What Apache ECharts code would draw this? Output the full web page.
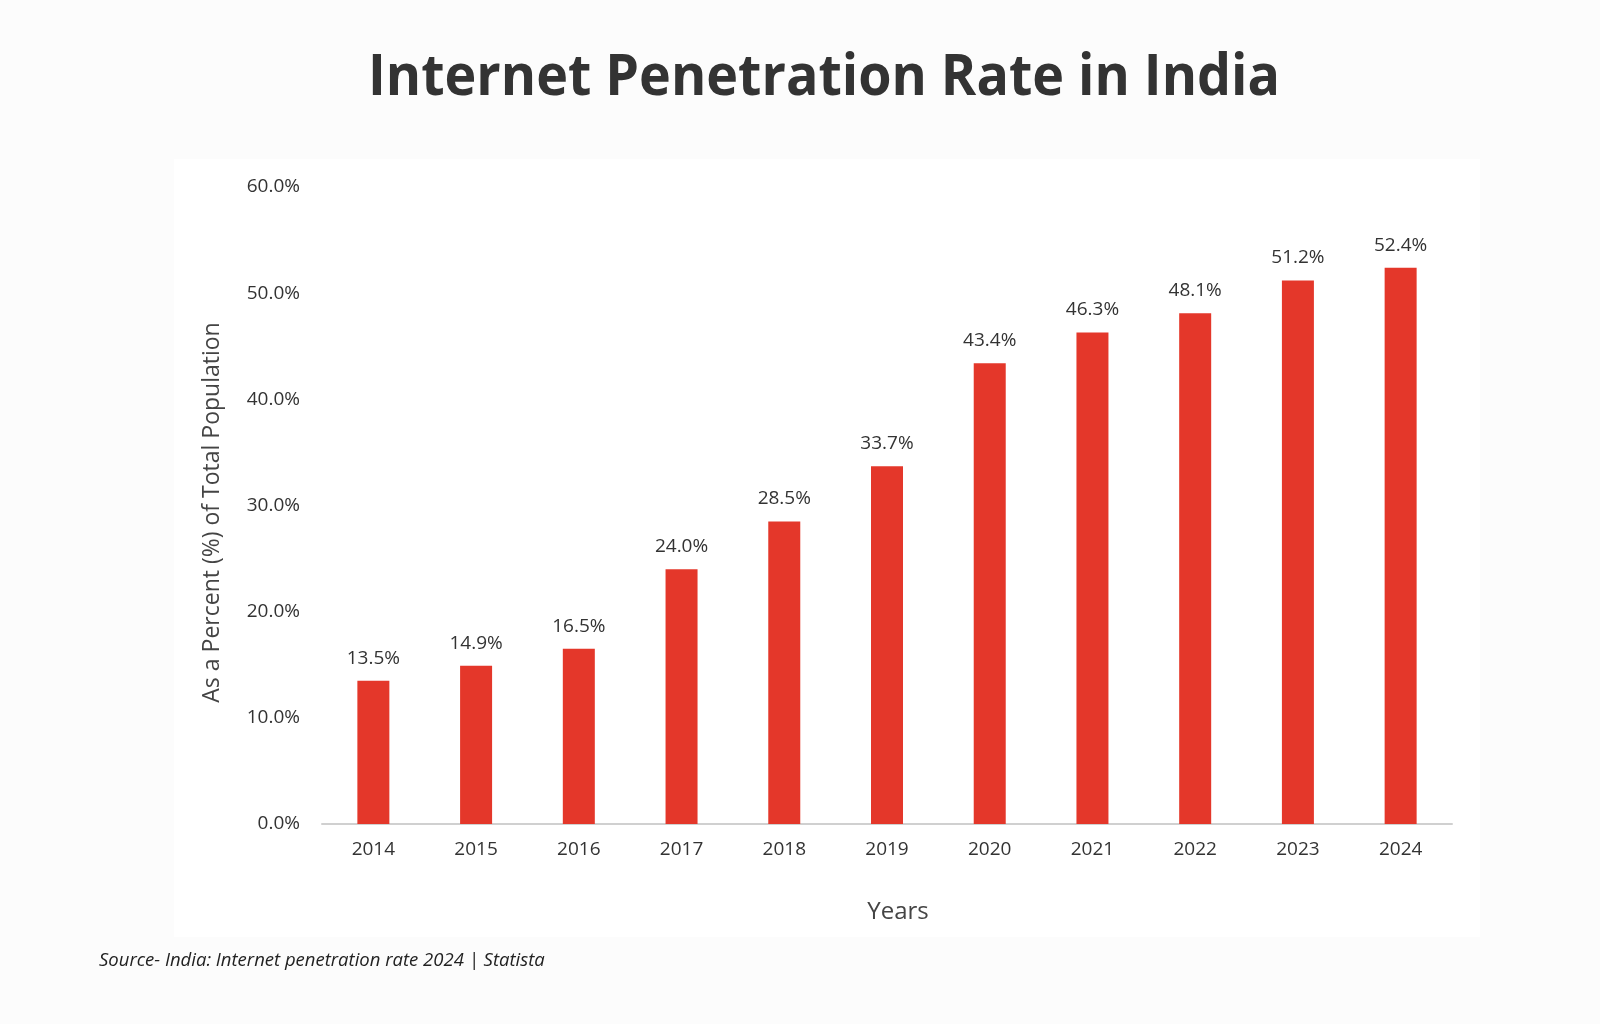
<!DOCTYPE html>
<html>
<head>
<meta charset="utf-8">
<script src="https://cdn.jsdelivr.net/npm/echarts@6/dist/echarts.min.js"></script>
<style>
  html, body { margin: 0; padding: 0; background: #fcfcfc; }
  #chart { width: 1600px; height: 1024px; }
</style>
</head>
<body>
<div id="chart"></div>
<script>
const years = ['2014','2015','2016','2017','2018','2019','2020','2021','2022','2023','2024'];
const penetration = [13.5, 14.9, 16.5, 24.0, 28.5, 33.7, 43.4, 46.3, 48.1, 51.2, 52.4];
const titleText = 'Internet Penetration Rate in India';
const yAxisTitle = 'As a Percent (%) of Total Population';
const xAxisTitle = 'Years';
const sourceText = 'Source- India: Internet penetration rate 2024 | Statista';

const chart = echarts.init(document.getElementById('chart'), null, { renderer: 'canvas' });
chart.setOption({
  backgroundColor: '#fcfcfc',
  animation: false,
  graphic: [
    {
      type: 'rect',
      z: -10,
      shape: { x: 174, y: 159, width: 1306, height: 778 },
      style: { fill: '#ffffff' }
    },
    {
      type: 'text',
      x: 824,
      y: 78.5,
      scaleX: 0.928,
      originX: 0,
      originY: 0,
      style: {
        text: titleText,
        align: 'center',
        verticalAlign: 'middle',
        fontFamily: '"Open Sans", sans-serif',
        fontWeight: 'bold',
        fontSize: 58,
        fill: '#333333'
      }
    },
    {
      type: 'text',
      left: 99,
      top: 951,
      style: {
        text: sourceText,
        fontFamily: '"Open Sans", sans-serif',
        fontStyle: 'italic',
        fontSize: 18.5,
        fill: '#222222'
      }
    }
  ],
  grid: {
    left: 322,
    right: 148,
    top: 187,
    bottom: 200,
    containLabel: false
  },
  xAxis: {
    type: 'category',
    data: years,
    name: xAxisTitle,
    nameLocation: 'middle',
    nameGap: 76,
    nameTextStyle: { fontFamily: '"Open Sans", sans-serif', fontSize: 24, color: '#444444', padding: [0, 0, 0, 22] },
    axisLine: { lineStyle: { color: '#d0d0d0', width: 2 } },
    axisTick: { show: false },
    axisLabel: { margin: 16, fontFamily: '"Open Sans", sans-serif', fontSize: 19, fontWeight: 500, color: '#333333' }
  },
  yAxis: {
    type: 'value',
    min: 0,
    max: 60,
    interval: 10,
    name: yAxisTitle,
    nameLocation: 'middle',
    nameGap: 98,
    nameTextStyle: { fontFamily: '"Open Sans", sans-serif', fontSize: 23, color: '#444444', padding: [0, 14, 0, 0] },
    axisLine: { show: false },
    axisTick: { show: false },
    splitLine: { show: false },
    axisLabel: {
      margin: 22,
      fontFamily: '"Open Sans", sans-serif',
      fontSize: 19,
      fontWeight: 500,
      color: '#333333',
      formatter: v => v.toFixed(1) + '%'
    }
  },
  series: [{
    type: 'bar',
    data: penetration,
    barWidth: 32,
    itemStyle: { color: '#e4372a' },
    label: {
      show: true,
      position: 'top',
      distance: 13,
      fontFamily: '"Open Sans", sans-serif',
      fontSize: 19,
      fontWeight: 500,
      color: '#333333',
      formatter: p => p.value.toFixed(1) + '%'
    }
  }]
});
</script>
</body>
</html>
